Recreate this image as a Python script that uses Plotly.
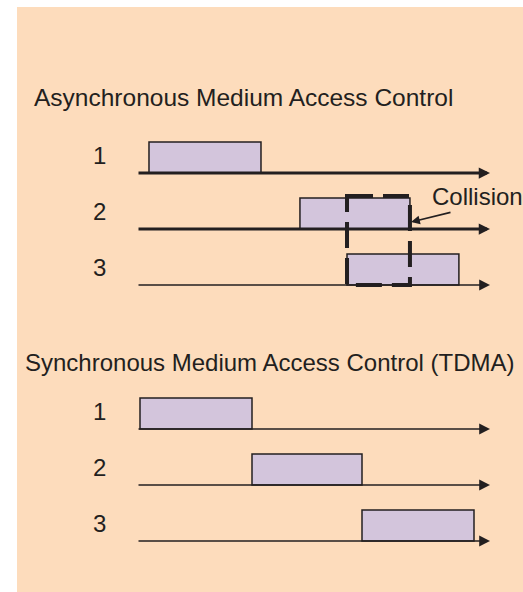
import plotly.graph_objects as go

# ---------------- data (time units: one TDMA slot = 1) ----------------
rows = ["1", "2", "3"]
async_start = [0.108, 1.468, 1.892]
async_end = [1.117, 2.459, 2.900]
tdma_start = [0.027, 1.036, 2.027]
tdma_end = [1.036, 2.027, 3.036]
axis_start = 0.0
axis_end = 3.18
collision_label = "Collision"
title_async = "Asynchronous Medium Access Control"
title_tdma = "Synchronous Medium Access Control (TDMA)"

# ---------------- layout / style ----------------
W, H = 523, 592
X0_PX, SLOT_PX = 137, 111          # pixel of t=0, pixels per slot
x_range = [-X0_PX / SLOT_PX, (W - X0_PX) / SLOT_PX]
def tx(px):
    return (px - X0_PX) / SLOT_PX

async_base = [173, 229, 285]
tdma_base = [429, 485, 541]
box_h = 31
async_axis_w = [3, 3, 1.6]
tdma_axis_w = [1.6, 1.6, 1.6]

BG = "#FDDCBC"
FILL = "#D3C5DC"
INK = "#231F20"
FONT = "Liberation Sans, Arial, sans-serif"

fig = go.Figure()
shapes = []
annotations = []

# peach background panel
shapes.append(dict(type="rect", xref="paper", yref="paper", x0=17 / W, x1=1,
                   y0=0, y1=1 - 7 / H, fillcolor=BG, line=dict(width=0), layer="below"))

def add_group(starts, ends, bases, widths):
    for i, lab in enumerate(rows):
        b = bases[i]
        w = widths[i]
        # time axis with arrow
        annotations.append(dict(x=axis_end, y=b, ax=axis_start, ay=b, xref="x", yref="y",
                                axref="x", ayref="y", text="", showarrow=True,
                                arrowhead=2, arrowsize=(0.75 if w > 2 else 1.35),
                                arrowwidth=w, arrowcolor=INK, standoff=0, startstandoff=0))
        # pulse box
        shapes.append(dict(type="rect", xref="x", yref="y", x0=starts[i], x1=ends[i],
                           y0=b - box_h, y1=b, fillcolor=FILL,
                           line=dict(color=INK, width=1.5), layer="above"))
        # row label
        annotations.append(dict(x=tx(99), y=b - 18, xref="x", yref="y", text=lab,
                                showarrow=False, font=dict(family=FONT, size=24, color=INK),
                                xanchor="center", yanchor="middle"))

add_group(async_start, async_end, async_base, async_axis_w)
add_group(tdma_start, tdma_end, tdma_base, tdma_axis_w)

# collision dashed box
shapes.append(dict(type="rect", xref="x", yref="y", x0=async_start[2], x1=async_end[1],
                   y0=async_base[1] - box_h - 2, y1=async_base[2],
                   line=dict(color=INK, width=4, dash="26px,10px"), fillcolor="rgba(0,0,0,0)",
                   layer="above"))

# collision label + pointer
annotations.append(dict(x=tx(430), y=196, xref="x", yref="y", text=collision_label,
                        showarrow=False, xanchor="left", yanchor="middle",
                        font=dict(family=FONT, size=24, color=INK)))
annotations.append(dict(x=async_end[1] + 0.01, y=222, ax=tx(452), ay=212, xref="x", yref="y",
                        axref="x", ayref="y", text="", showarrow=True, arrowhead=2,
                        arrowsize=1.1, arrowwidth=1.6, arrowcolor=INK, standoff=0))

# titles
annotations.append(dict(x=32 / W, y=97, xref="paper", yref="y", text=title_async,
                        showarrow=False, xanchor="left", yanchor="middle",
                        font=dict(family=FONT, size=24.5, color=INK)))
annotations.append(dict(x=23 / W, y=362, xref="paper", yref="y", text=title_tdma,
                        showarrow=False, xanchor="left", yanchor="middle",
                        font=dict(family=FONT, size=24, color=INK)))

fig.update_layout(
    width=W, height=H, autosize=False,
    margin=dict(l=0, r=0, t=0, b=0, pad=0),
    paper_bgcolor="white", plot_bgcolor="rgba(0,0,0,0)",
    xaxis=dict(range=x_range, visible=False, fixedrange=True),
    yaxis=dict(range=[H, 0], visible=False, fixedrange=True),
    shapes=shapes, annotations=annotations, showlegend=False,
)

fig.write_html("out.html", config={"displayModeBar": False},
               post_script="document.body.style.margin='0';document.body.style.padding='0';document.body.style.overflow='hidden';")
